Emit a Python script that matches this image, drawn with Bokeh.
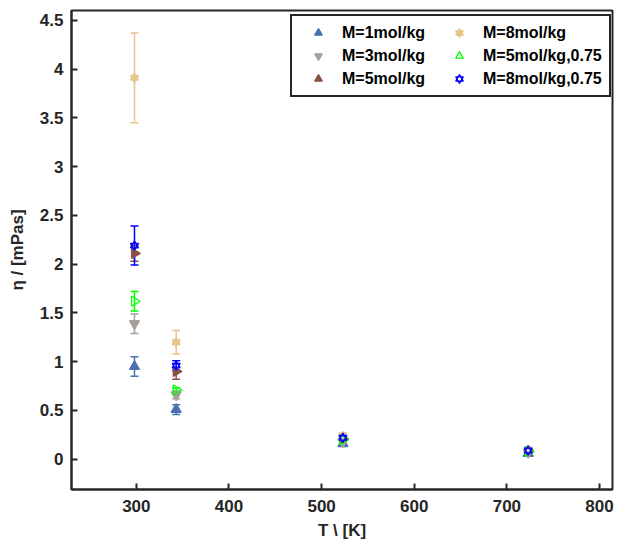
import numpy as np
from bokeh.plotting import figure
from bokeh.models import Legend, LegendItem, Whisker, TeeHead, ColumnDataSource, FixedTicker, Range1d
from bokeh.embed import file_html
from bokeh.resources import INLINE

T = [298, 343, 523, 723]
series_names = ["M=1mol/kg", "M=3mol/kg", "M=5mol/kg", "M=8mol/kg", "M=5mol/kg,0.75", "M=8mol/kg,0.75"]
M1 = [0.95, 0.51, 0.16, 0.06]
M1_err = [0.10, 0.05, 0.02, 0.01]
M3 = [1.39, 0.66, 0.18, 0.07]
M3_err = [0.10, 0.04, 0.02, 0.01]
M5 = [2.11, 0.90, 0.21, 0.08]
M5_err = [0.08, 0.08, 0.02, 0.01]
M8 = [3.91, 1.20, 0.24, 0.10]
M8_err = [0.46, 0.12, 0.03, 0.02]
M5_075 = [1.62, 0.71, 0.20, 0.08]
M5_075_err = [0.10, 0.02, 0.02, 0.01]
M8_075 = [2.19, 0.96, 0.22, 0.09]
M8_075_err = [0.20, 0.05, 0.02, 0.01]
x_ticks = [300, 400, 500, 600, 700, 800]
y_ticks = [0, 0.5, 1, 1.5, 2, 2.5, 3, 3.5, 4, 4.5]

FONT = "Liberation Sans"
DARK = "#262626"

p = figure(width=617, height=547, output_backend="svg", toolbar_location=None,
           x_range=Range1d(230, 814), y_range=Range1d(-0.31, 4.6),
           min_border_left=71, min_border_right=5, min_border_top=10, min_border_bottom=58)
p.grid.visible = False
p.outline_line_color = DARK
p.outline_line_width = 2
p.outline_line_alpha = 1.0
p.background_fill_color = "white"
p.border_fill_color = "white"

for axes in (p.xaxis, p.yaxis):
    axes.axis_line_color = DARK
    axes.axis_line_width = 2
    axes.major_tick_line_color = DARK
    axes.major_tick_line_width = 2
    axes.major_tick_in = 6
    axes.major_tick_out = 0
    axes.minor_tick_line_color = None
    axes.major_label_text_font = FONT
    axes.major_label_text_font_style = "bold"
    axes.major_label_text_font_size = "17px"
    axes.major_label_text_color = DARK
    axes.axis_label_text_font = FONT
    axes.axis_label_text_font_style = "bold"
    axes.axis_label_text_font_size = "17px"
    axes.axis_label_text_color = DARK

p.xaxis.ticker = FixedTicker(ticks=x_ticks)
p.yaxis.ticker = FixedTicker(ticks=y_ticks)
p.yaxis.major_label_overrides = {0: "0", 1: "1", 2: "2", 3: "3", 4: "4"}
p.xaxis.axis_label = "T \\ [K]"
p.yaxis.axis_label = "η / [mPas]"
p.xaxis.major_label_standoff = 10
p.xaxis.axis_label_standoff = 6
p.yaxis.major_label_standoff = 8
p.yaxis.axis_label_standoff = 10

styles = [
    (M1, M1_err, "#4A72B0", [("triangle", 0, True)]),
    (M3, M3_err, "#A6A09B", [("inverted_triangle", 0, True)]),
    (M5, M5_err, "#8C5046", [("triangle", -np.pi / 2, True)]),
    (M8, M8_err, "#E8C48E", [("triangle", 0, True), ("inverted_triangle", 0, True)]),
    (M5_075, M5_075_err, "#00FF00", [("triangle", -np.pi / 2, False)]),
    (M8_075, M8_075_err, "#0000FF", [("triangle", 0, False), ("inverted_triangle", 0, False)]),
]

items = []
for name, (vals, errs, color, markers) in zip(series_names, styles):
    src = ColumnDataSource(dict(x=T, y=vals,
                                lo=[v - e for v, e in zip(vals, errs)],
                                hi=[v + e for v, e in zip(vals, errs)]))
    w = Whisker(source=src, base="x", lower="lo", upper="hi", line_color=color, line_width=1.5,
                upper_head=TeeHead(size=8, line_color=color, line_width=1.5),
                lower_head=TeeHead(size=8, line_color=color, line_width=1.5))
    p.add_layout(w)
    rends = []
    for mk, ang, filled in markers:
        sz = 10 if len(markers) == 1 else 8
        r = p.scatter("x", "y", source=src, marker=mk, angle=ang, size=sz,
                      line_color=color, line_width=1.3,
                      fill_color=color if filled else None)
        rends.append(r)
    items.append(LegendItem(label=name, renderers=rends))

legend = Legend(items=items, ncols=2, location=(219, 392),
                label_text_font=FONT, label_text_font_style="bold", label_text_font_size="16px",
                label_text_color="black", border_line_color=DARK, border_line_width=2,
                border_line_alpha=1.0, label_standoff=5, label_width=94,
                spacing=4, padding=7, glyph_width=38, label_height=19, glyph_height=19,
                background_fill_alpha=1.0)
p.add_layout(legend)

open("out.html", "w").write(file_html(p, INLINE))
